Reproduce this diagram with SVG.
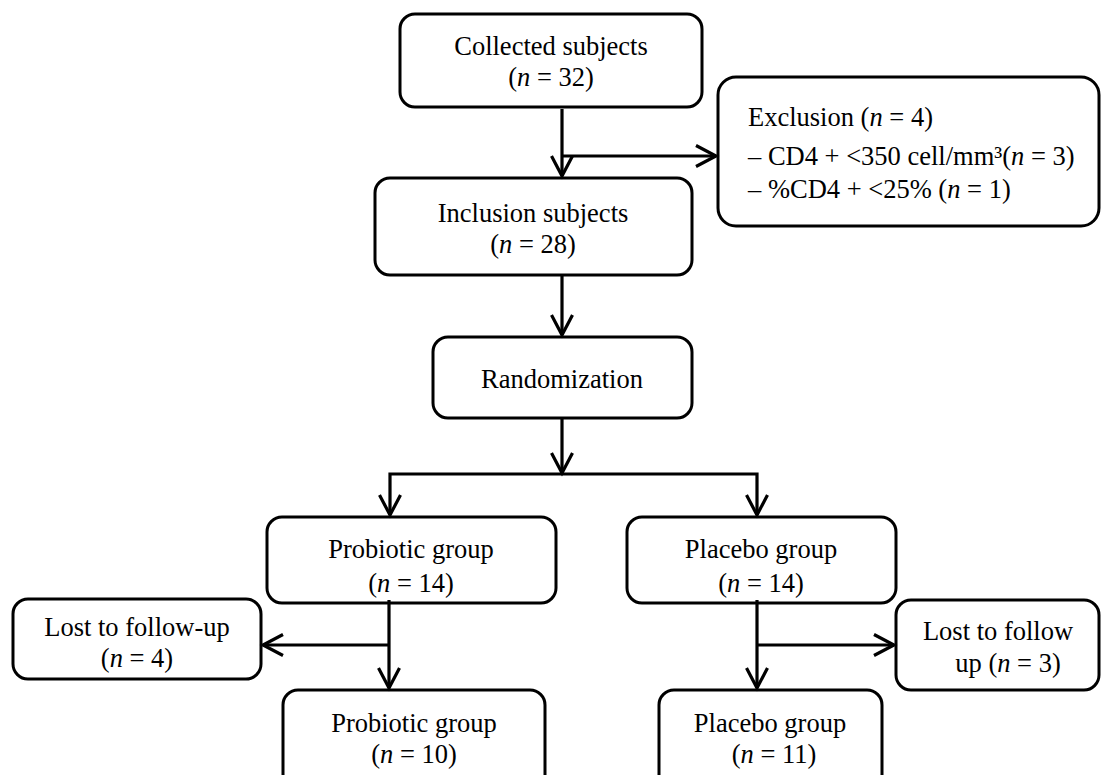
<svg xmlns="http://www.w3.org/2000/svg" width="1101" height="775" viewBox="0 0 1101 775">
<style>
  .box { fill: #ffffff; stroke: #000000; stroke-width: 3; }
  .t { font-family: "Liberation Serif", "Times New Roman", serif; font-size: 26.5px; fill: #000000; }
  .c { text-anchor: middle; }
  .i { font-style: italic; }
  .conn { fill: none; stroke: #000000; stroke-width: 3.2; }
</style>
<defs>
  <marker id="arrow" markerUnits="userSpaceOnUse" viewBox="-24 -14 28 28" refX="0" refY="0" markerWidth="28" markerHeight="28" orient="auto">
    <path d="M-20,-10.5 L0,0 L-20,10.5" fill="none" stroke="#000000" stroke-width="3.2" stroke-linejoin="miter"/>
  </marker>
</defs>
<rect width="1101" height="775" fill="#ffffff"/>

<g id="collected">
  <rect class="box" x="400" y="14" width="302" height="93" rx="15"/>
  <text class="t c" x="551" y="55">Collected subjects</text>
  <text class="t c" x="551" y="86">(<tspan class="i">n</tspan> = 32)</text>
</g>

<g id="exclusion">
  <rect class="box" x="718" y="77" width="381" height="149" rx="18"/>
  <text class="t" x="748" y="126">Exclusion (<tspan class="i">n</tspan> = 4)</text>
  <text class="t" x="748" y="165">– CD4 + &lt;350 cell/mm³(<tspan class="i">n</tspan> = 3)</text>
  <text class="t" x="748" y="198">– %CD4 + &lt;25% (<tspan class="i">n</tspan> = 1)</text>
</g>

<g id="inclusion">
  <rect class="box" x="375" y="178" width="317" height="97" rx="15"/>
  <text class="t c" x="533" y="222">Inclusion subjects</text>
  <text class="t c" x="533" y="253">(<tspan class="i">n</tspan> = 28)</text>
</g>

<g id="randomization">
  <rect class="box" x="433" y="337" width="259" height="81" rx="15"/>
  <text class="t c" x="562" y="388">Randomization</text>
</g>

<g id="probiotic1">
  <rect class="box" x="267" y="517" width="289" height="86" rx="15"/>
  <text class="t c" x="411" y="558">Probiotic group</text>
  <text class="t c" x="411" y="592">(<tspan class="i">n</tspan> = 14)</text>
</g>

<g id="placebo1">
  <rect class="box" x="627" y="517" width="269" height="86" rx="15"/>
  <text class="t c" x="761" y="558">Placebo group</text>
  <text class="t c" x="761" y="592">(<tspan class="i">n</tspan> = 14)</text>
</g>

<g id="lost1">
  <rect class="box" x="13" y="599" width="248" height="80" rx="15"/>
  <text class="t c" x="137" y="636">Lost to follow-up</text>
  <text class="t c" x="137" y="667">(<tspan class="i">n</tspan> = 4)</text>
</g>

<g id="lost2">
  <rect class="box" x="896" y="600" width="203" height="90" rx="15"/>
  <text class="t c" x="998" y="640">Lost to follow</text>
  <text class="t c" x="1008" y="672">up (<tspan class="i">n</tspan> = 3)</text>
</g>

<g id="probiotic2">
  <rect class="box" x="283" y="690" width="262" height="100" rx="15"/>
  <text class="t c" x="414" y="732">Probiotic group</text>
  <text class="t c" x="414" y="763">(<tspan class="i">n</tspan> = 10)</text>
</g>

<g id="placebo2">
  <rect class="box" x="659" y="690" width="223" height="100" rx="15"/>
  <text class="t c" x="770" y="732">Placebo group</text>
  <text class="t c" x="774" y="763">(<tspan class="i">n</tspan> = 11)</text>
</g>

<g id="connectors">
  <line class="conn" x1="562" y1="109" x2="562" y2="176" marker-end="url(#arrow)"/>
  <line class="conn" x1="562" y1="156" x2="716" y2="156" marker-end="url(#arrow)"/>
  <line class="conn" x1="562" y1="275" x2="562" y2="335" marker-end="url(#arrow)"/>
  <line class="conn" x1="562" y1="418" x2="562" y2="473" marker-end="url(#arrow)"/>
  <path class="conn" d="M562,474 H390 V515" marker-end="url(#arrow)"/>
  <path class="conn" d="M562,474 H757 V515" marker-end="url(#arrow)"/>
  <line class="conn" x1="389" y1="600" x2="389" y2="688" marker-end="url(#arrow)"/>
  <line class="conn" x1="389" y1="645" x2="263" y2="645" marker-end="url(#arrow)"/>
  <line class="conn" x1="757" y1="600" x2="757" y2="688" marker-end="url(#arrow)"/>
  <line class="conn" x1="757" y1="645" x2="894" y2="645" marker-end="url(#arrow)"/>
</g>
</svg>
